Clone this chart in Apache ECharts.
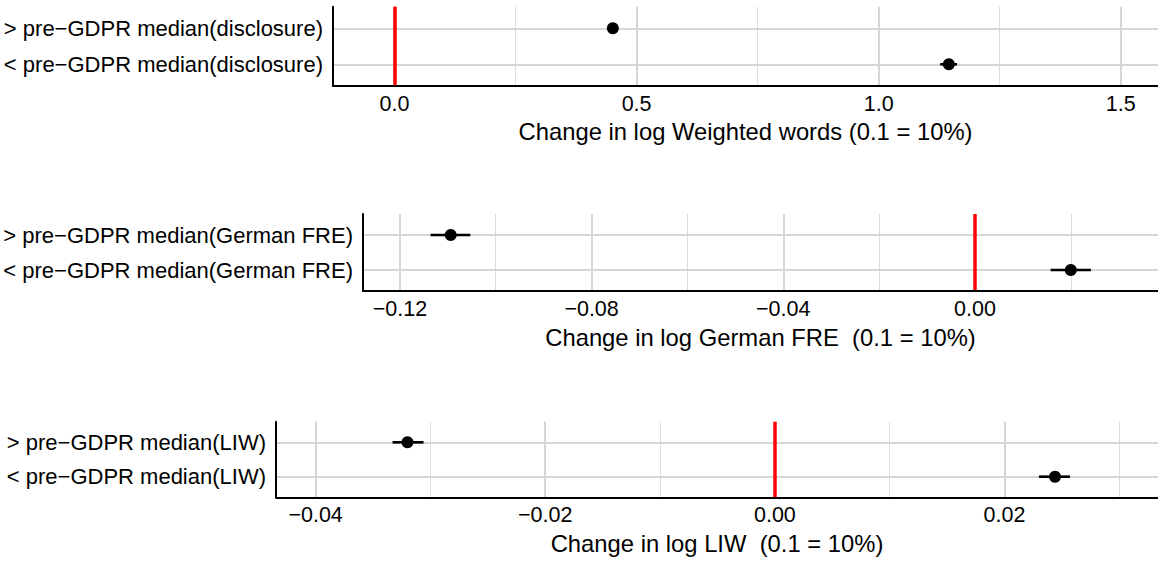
<!DOCTYPE html>
<html>
<head>
<meta charset="utf-8">
<script src="https://cdn.jsdelivr.net/npm/echarts@6.0.0/dist/echarts.min.js"></script>
<style>
html,body{margin:0;padding:0;background:#ffffff;}
#chart{width:1158px;height:561px;}
</style>
</head>
<body>
<div id="chart"></div>
<script>
// ---------- DATA (index 0 = "<" row at bottom, index 1 = ">" row at top) ----------
const catsWords = ['< pre\u2212GDPR median(disclosure)', '> pre\u2212GDPR median(disclosure)'];
const estWords = [1.145, 0.451];
const loWords = [1.127, 0.442];
const hiWords = [1.162, 0.460];
const ticksWords = [0, 0.5, 1.0, 1.5];
const tickLabelsWords = ['0.0', '0.5', '1.0', '1.5'];
const minorWords = [0.25, 0.75, 1.25];
const titleWords = 'Change in log Weighted words (0.1 = 10%)';

const catsFRE = ['< pre\u2212GDPR median(German FRE)', '> pre\u2212GDPR median(German FRE)'];
const estFRE = [0.0200, -0.1094];
const loFRE = [0.0158, -0.1136];
const hiFRE = [0.0242, -0.1053];
const ticksFRE = [-0.12, -0.08, -0.04, 0];
const tickLabelsFRE = ['\u22120.12', '\u22120.08', '\u22120.04', '0.00'];
const minorFRE = [-0.10, -0.06, -0.02, 0.02];
const titleFRE = 'Change in log German FRE  (0.1 = 10%)';

const catsLIW = ['< pre\u2212GDPR median(LIW)', '> pre\u2212GDPR median(LIW)'];
const estLIW = [0.0244, -0.0320];
const loLIW = [0.0230, -0.0333];
const hiLIW = [0.0257, -0.0306];
const ticksLIW = [-0.04, -0.02, 0, 0.02];
const tickLabelsLIW = ['\u22120.04', '\u22120.02', '0.00', '0.02'];
const minorLIW = [-0.03, -0.01, 0.01, 0.03];
const titleLIW = 'Change in log LIW  (0.1 = 10%)';

const refValue = 0;

// ---------- LAYOUT ----------
const FONT = 'Liberation Sans, Arial, Helvetica, sans-serif';
const panels = [
  {cats: catsWords, est: estWords, lo: loWords, hi: hiWords, ticks: ticksWords, labels: tickLabelsWords,
   minor: minorWords, title: titleWords, xmin: -0.127, xmax: 1.577, left: 333, top: 6.7, height: 79.2},
  {cats: catsFRE, est: estFRE, lo: loFRE, hi: hiFRE, ticks: ticksFRE, labels: tickLabelsFRE,
   minor: minorFRE, title: titleFRE, xmin: -0.1277, xmax: 0.0382, left: 363, top: 214, height: 77},
  {cats: catsLIW, est: estLIW, lo: loLIW, hi: hiLIW, ticks: ticksLIW, labels: tickLabelsLIW,
   minor: minorLIW, title: titleLIW, xmin: -0.04345, xmax: 0.03337, left: 276, top: 421.7, height: 75.6}
];

const grid = [], xAxis = [], yAxis = [], series = [];
const lineOpts = {symbol: ['none', 'none'], silent: true, label: {show: false}, animation: false,
                  emphasis: {disabled: true}};

panels.forEach((p, i) => {
  grid.push({left: p.left, right: 0, top: p.top, height: p.height, containLabel: false});
  xAxis.push({
    type: 'value', gridIndex: i, min: p.xmin, max: p.xmax, z: 20,
    axisLine: {show: true, onZero: false, lineStyle: {color: '#000', width: 2}},
    axisTick: {show: false},
    splitLine: {show: false},
    axisLabel: {
      show: true, customValues: p.ticks, margin: 7, color: '#000', fontSize: 21.5, fontFamily: FONT,
      formatter: (v) => {
        const k = p.ticks.findIndex(t => Math.abs(t - v) < 1e-9);
        return k >= 0 ? p.labels[k] : '';
      }
    },
    name: p.title, nameLocation: 'middle', nameGap: 34,
    nameTextStyle: {color: '#000', fontSize: 23.8, fontFamily: FONT}
  });
  yAxis.push({
    type: 'value', gridIndex: i, min: 0.4, max: 2.6, z: 20,
    axisLine: {show: true, onZero: false, lineStyle: {color: '#000', width: 2}},
    axisTick: {show: false},
    splitLine: {show: false},
    axisLabel: {
      show: true, customValues: [1, 2], margin: 10, color: '#000', fontSize: 22, fontFamily: FONT,
      formatter: (v) => p.cats[Math.round(v) - 1] || ''
    }
  });
  // gridlines
  series.push({
    type: 'scatter', xAxisIndex: i, yAxisIndex: i, data: [], z: 1, silent: true,
    markLine: Object.assign({}, lineOpts, {
      z: 1,
      data: p.ticks.map(t => ({xAxis: t, lineStyle: {color: '#d6d6d6', width: 2, type: 'solid'}}))
        .concat(p.minor.map(t => ({xAxis: t, lineStyle: {color: '#dedede', width: 1, type: 'solid'}})))
        .concat(p.cats.map((c, k) => ({yAxis: k + 1, lineStyle: {color: '#d6d6d6', width: 2, type: 'solid'}})))
    })
  });
  // reference line
  series.push({
    type: 'scatter', xAxisIndex: i, yAxisIndex: i, data: [], z: 2, silent: true,
    markLine: Object.assign({}, lineOpts, {
      z: 2,
      data: [{xAxis: refValue, lineStyle: {color: '#ff0000', width: 3.5, type: 'solid'}}]
    })
  });
  // error bars
  series.push({
    type: 'custom', xAxisIndex: i, yAxisIndex: i, z: 10, silent: true,
    data: p.est.map((e, k) => [k + 1, p.lo[k], p.hi[k]]),
    encode: {x: [1, 2], y: 0},
    renderItem: (params, api) => {
      const y = api.value(0);
      const a = api.coord([api.value(1), y]);
      const b = api.coord([api.value(2), y]);
      return {type: 'line', shape: {x1: a[0], y1: a[1], x2: b[0], y2: b[1]},
              style: {stroke: '#000', lineWidth: 2.6}};
    }
  });
  // points
  series.push({
    type: 'scatter', xAxisIndex: i, yAxisIndex: i, z: 11, silent: true,
    symbol: 'circle', symbolSize: 12,
    itemStyle: {color: '#000', opacity: 1},
    data: p.est.map((e, k) => [e, k + 1])
  });
});

const chart = echarts.init(document.getElementById('chart'), null, {renderer: 'svg'});
chart.setOption({
  animation: false,
  backgroundColor: '#ffffff',
  grid, xAxis, yAxis, series
});
</script>
</body>
</html>
